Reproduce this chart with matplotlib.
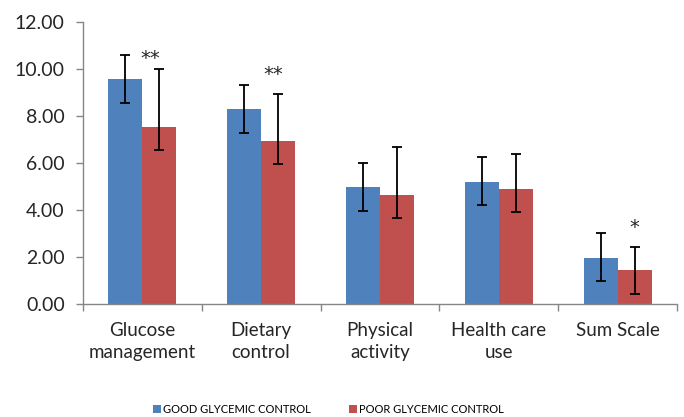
import matplotlib
matplotlib.use("Agg")
import matplotlib.pyplot as plt
from matplotlib import font_manager
import numpy as np

categories = ["Glucose\nmanagement", "Dietary\ncontrol", "Physical\nactivity",
              "Health care\nuse", "Sum Scale"]
good = [9.57, 8.29, 4.98, 5.21, 1.99]
good_lo = [1.02, 1.02, 0.99, 0.99, 1.01]
good_hi = [1.03, 1.02, 1.04, 1.05, 1.03]
poor = [7.56, 6.94, 4.64, 4.90, 1.45]
poor_lo = [0.99, 0.99, 0.98, 0.98, 1.00]
poor_hi = [2.46, 2.01, 2.03, 1.50, 1.00]
stars = ["**", "**", "", "", "*"]
star_y = [10.45, 9.77, 0, 0, 3.27]
star_dx = [0.064, 0.10, 0, 0, 0.14]

names = [f.name for f in font_manager.fontManager.ttflist]
main_font = "Lato" if "Lato" in names else "DejaVu Sans"

blue = "#4F81BD"
red = "#C0504D"
axis_col = "#868686"

fig = plt.figure(figsize=(6.84, 4.17), dpi=100)
ax = fig.add_axes([0.121, 0.270, 0.869, 0.677])

x = np.arange(len(categories))
w = 0.286
ax.bar(x - w / 2, good, w, color=blue, label="GOOD GLYCEMIC CONTROL")
ax.bar(x + w / 2, poor, w, color=red, label="POOR GLYCEMIC CONTROL")
ax.errorbar(x - w / 2, good, yerr=[good_lo, good_hi], fmt="none",
            ecolor="black", elinewidth=1.3, capsize=3.6, capthick=1.3)
ax.errorbar(x + w / 2, poor, yerr=[poor_lo, poor_hi], fmt="none",
            ecolor="black", elinewidth=1.3, capsize=3.6, capthick=1.3)

for i in range(len(categories)):
    if stars[i]:
        ax.text(x[i] + star_dx[i], star_y[i], stars[i], ha="center", va="center",
                fontsize=14, color="#262626", family="DejaVu Sans")

ax.set_xlim(-0.5, len(categories) - 0.5)
ax.set_ylim(0, 12)
ax.set_yticks(np.arange(0, 12.1, 2))
ax.set_yticklabels(["%.2f" % v for v in np.arange(0, 12.1, 2)],
                   fontsize=14, family=main_font, color="#262626")
ax.set_xticks(x)
ax.set_xticklabels(categories, fontsize=13.5, family=main_font,
                   color="#262626", linespacing=1.3)
ax.set_xticks(np.arange(-0.5, len(categories)), minor=True)
ax.tick_params(axis="x", which="major", length=0, pad=13)
ax.tick_params(axis="x", which="minor", length=5, color=axis_col, width=1)
ax.tick_params(axis="y", length=5, color=axis_col, width=1, pad=8)

for s in ["top", "right"]:
    ax.spines[s].set_visible(False)
for s in ["left", "bottom"]:
    ax.spines[s].set_color(axis_col)
    ax.spines[s].set_linewidth(1)

fig.legend(loc="lower left", bbox_to_anchor=(0.217, -0.005), ncol=2,
           frameon=False, prop={"family": main_font, "size": 8},
           handlelength=0.75, handleheight=0.75, handletextpad=0.15,
           columnspacing=3.45, borderaxespad=0)

fig.savefig("out.png", dpi=100)
